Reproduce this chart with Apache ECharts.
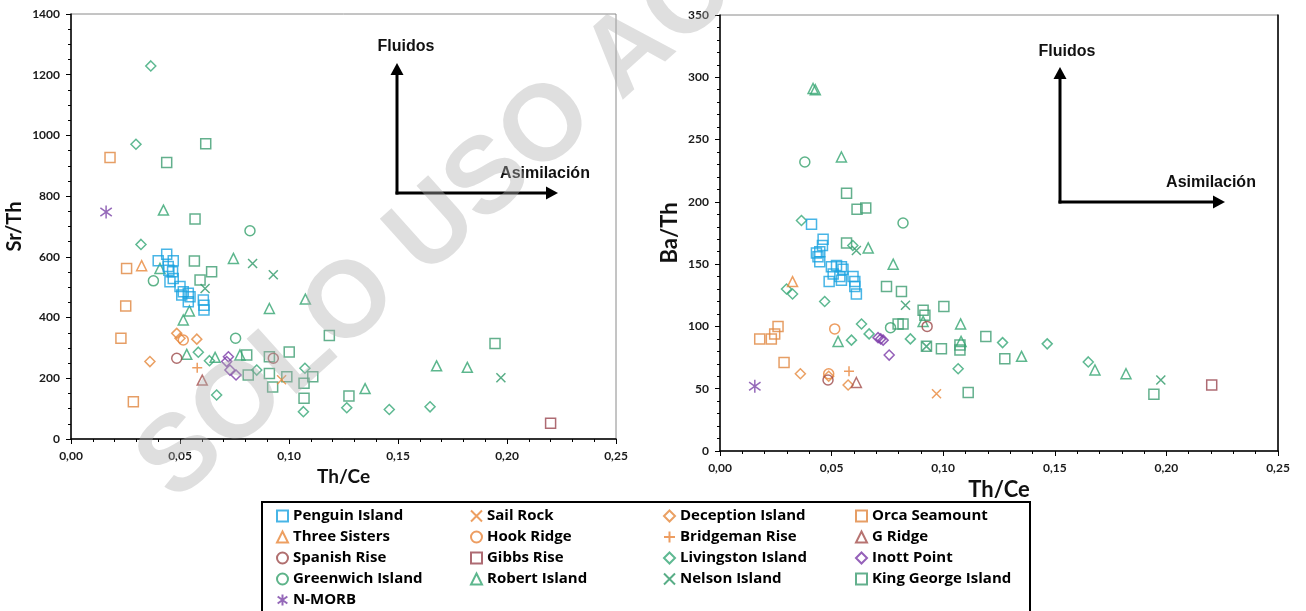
<!DOCTYPE html>
<html>
<head>
<meta charset="utf-8">
<script src="https://cdn.jsdelivr.net/npm/echarts@6/dist/echarts.min.js"></script>
<style>
  html, body { margin: 0; padding: 0; background: #fff; }
  #chart { width: 1306px; height: 611px; }
</style>
</head>
<body>
<div id="chart"></div>
<script>
// ---- Th/Ce vs Sr/Th  [Th/Ce, Sr/Th] ----
const penguinSrTh = [[0.0439,609],[0.0400,587],[0.0469,587],[0.0446,568],[0.0449,556],[0.0466,551],[0.0469,529],[0.0454,518],[0.0500,502],[0.0515,485],[0.0538,480],[0.0508,474],[0.0546,469],[0.0538,452],[0.0607,458],[0.0610,441],[0.0610,425]];
const sailRockSrTh = [[0.0966,195]];
const deceptionSrTh = [[0.0485,348],[0.0500,332],[0.0577,329],[0.0362,255]];
const orcaSrTh = [[0.0179,927],[0.0255,562],[0.0251,438],[0.0229,332],[0.0286,123]];
const threeSistersSrTh = [[0.0324,571]];
const hookRidgeSrTh = [[0.0515,326]];
const bridgemanSrTh = [[0.0579,235]];
const gRidgeSrTh = [[0.0602,194]];
const spanishSrTh = [[0.0485,266],[0.0928,266]];
const gibbsSrTh = [[0.2200,52]];
const livingstonSrTh = [[0.0366,1229],[0.0298,971],[0.0321,641],[0.0584,286],[0.0635,258],[0.0668,145],[0.0852,227],[0.1073,233],[0.1066,90],[0.1265,103],[0.1460,97],[0.1647,106]];
const inottSrTh = [[0.0722,271],[0.0714,255],[0.0729,227],[0.0757,211]];
const greenwichSrTh = [[0.0821,686],[0.0378,521],[0.0755,332]];
const robertSrTh = [[0.0424,754],[0.0408,562],[0.0745,595],[0.0910,430],[0.1075,461],[0.0515,392],[0.0543,422],[0.0531,279],[0.0661,269],[0.0775,277],[0.1677,241],[0.1818,236],[0.1349,166]];
const nelsonSrTh = [[0.0833,578],[0.0928,541],[0.0615,496],[0.1972,202]];
const kingGeorgeSrTh = [[0.0439,911],[0.0618,973],[0.0569,725],[0.0566,586],[0.0645,551],[0.0592,524],[0.1185,341],[0.0806,277],[0.0813,211],[0.0910,271],[0.0910,216],[0.0925,171],[0.1001,287],[0.0990,205],[0.1069,184],[0.1109,205],[0.1069,134],[0.1945,315],[0.1275,142]];
const nmorbSrTh = [[0.0161,748]];

// ---- Th/Ce vs Ba/Th  [Th/Ce, Ba/Th] ----
const penguinBaTh = [[0.0410,182],[0.0462,170],[0.0459,165],[0.0447,160],[0.0432,159],[0.0439,156],[0.0447,152],[0.0499,148],[0.0522,149],[0.0544,148],[0.0551,146],[0.0507,142],[0.0537,140],[0.0596,140],[0.0489,136],[0.0544,137],[0.0604,136],[0.0604,132],[0.0611,126]];
const sailRockBaTh = [[0.0970,46]];
const deceptionBaTh = [[0.0360,62],[0.0574,53],[0.0487,60]];
const orcaBaTh = [[0.0178,90],[0.0230,90],[0.0245,94],[0.0260,100],[0.0287,71]];
const threeSistersBaTh = [[0.0325,136]];
const hookRidgeBaTh = [[0.0514,98],[0.0487,62]];
const bridgemanBaTh = [[0.0578,64]];
const gRidgeBaTh = [[0.0611,55]];
const spanishBaTh = [[0.0484,57],[0.0928,100]];
const gibbsBaTh = [[0.2203,53]];
const livingstonBaTh = [[0.0365,185],[0.0298,130],[0.0325,126],[0.0469,120],[0.0595,165],[0.0634,102],[0.0668,94],[0.0589,89],[0.0853,90],[0.1067,66],[0.1266,87],[0.1466,86],[0.1650,71.5]];
const inottBaTh = [[0.0708,91],[0.0720,90],[0.0731,89],[0.0758,77]];
const greenwichBaTh = [[0.0380,232],[0.0820,183],[0.0764,99]];
const robertBaTh = [[0.0417,291],[0.0427,290],[0.0544,236],[0.0664,163],[0.0776,150],[0.0529,88],[0.0910,104],[0.1078,102],[0.1080,88],[0.1351,76],[0.1680,65],[0.1819,62]];
const nelsonBaTh = [[0.0611,161],[0.0831,117],[0.0925,84],[0.1975,57]];
const kingGeorgeBaTh = [[0.0567,207],[0.0614,194],[0.0653,195],[0.0567,167],[0.0746,132],[0.0813,128],[0.0910,113],[0.0918,109],[0.1003,116],[0.0798,102],[0.0820,102],[0.0925,84],[0.0992,82],[0.1075,85],[0.1075,81],[0.1191,92],[0.1112,47],[0.1276,74],[0.1944,45.5]];
const nmorbBaTh = [[0.0156,52]];

// ---- axis ticks ----
const thCeTickLabels = ['0,00', '0,05', '0,10', '0,15', '0,20', '0,25'];
const srThTicks = [0, 200, 400, 600, 800, 1000, 1200, 1400];
const baThTicks = [0, 50, 100, 150, 200, 250, 300, 350];

// ---- legend columns ----
const legendCol1 = ['Penguin Island', 'Three Sisters', 'Spanish Rise', 'Greenwich Island', 'N-MORB'];
const legendCol2 = ['Sail Rock', 'Hook Ridge', 'Gibbs Rise', 'Robert Island'];
const legendCol3 = ['Deception Island', 'Bridgeman Rise', 'Livingston Island', 'Nelson Island'];
const legendCol4 = ['Orca Seamount', 'G Ridge', 'Inott Point', 'King George Island'];

// symbol shapes
const SYM_X = 'path://M0,0L10,10M10,0L0,10';
const SYM_PLUS = 'path://M5,0L5,10M0,5L10,5';
const SYM_STAR = 'path://M5,0L5,10M0.6,1.8L9.4,8.2M0.6,8.2L9.4,1.8';

// drawing order: greens underneath, Penguin Island on top
const groups = [
  { name: 'King George Island', symbol: 'rect', size: 10, color: '#3c9c70', a: kingGeorgeSrTh, b: kingGeorgeBaTh },
  { name: 'Livingston Island', symbol: 'diamond', size: 10, color: '#36a877', a: livingstonSrTh, b: livingstonBaTh },
  { name: 'Robert Island', symbol: 'triangle', size: 10, color: '#34a572', a: robertSrTh, b: robertBaTh },
  { name: 'Nelson Island', symbol: SYM_X, size: 9, color: '#2e9868', a: nelsonSrTh, b: nelsonBaTh },
  { name: 'Greenwich Island', symbol: 'circle', size: 10, color: '#35a06c', a: greenwichSrTh, b: greenwichBaTh },
  { name: 'Orca Seamount', symbol: 'rect', size: 10, color: '#e0863e', a: orcaSrTh, b: orcaBaTh },
  { name: 'Three Sisters', symbol: 'triangle', size: 10, color: '#e8873a', a: threeSistersSrTh, b: threeSistersBaTh },
  { name: 'Deception Island', symbol: 'diamond', size: 10, color: '#e5883c', a: deceptionSrTh, b: deceptionBaTh },
  { name: 'Hook Ridge', symbol: 'circle', size: 10, color: '#e8853a', a: hookRidgeSrTh, b: hookRidgeBaTh },
  { name: 'Bridgeman Rise', symbol: SYM_PLUS, size: 10, color: '#e8853a', a: bridgemanSrTh, b: bridgemanBaTh },
  { name: 'Sail Rock', symbol: SYM_X, size: 9, color: '#e8873a', a: sailRockSrTh, b: sailRockBaTh },
  { name: 'G Ridge', symbol: 'triangle', size: 10, color: '#a5504d', a: gRidgeSrTh, b: gRidgeBaTh },
  { name: 'Spanish Rise', symbol: 'circle', size: 10, color: '#9c4a4a', a: spanishSrTh, b: spanishBaTh },
  { name: 'Gibbs Rise', symbol: 'rect', size: 10, color: '#9a4650', a: gibbsSrTh, b: gibbsBaTh },
  { name: 'Inott Point', symbol: 'diamond', size: 10, color: '#7a3aa8', a: inottSrTh, b: inottBaTh },
  { name: 'N-MORB', symbol: SYM_STAR, size: 13, color: '#7a44a8', a: nmorbSrTh, b: nmorbBaTh },
  { name: 'Penguin Island', symbol: 'rect', size: 10, color: '#1aa2e0', a: penguinSrTh, b: penguinBaTh }
];

function scatterSeries(g, data, idx) {
  return {
    type: 'scatter',
    name: g.name,
    xAxisIndex: idx,
    yAxisIndex: idx,
    data: data,
    symbol: g.symbol,
    symbolSize: g.size,
    symbolKeepAspect: true,
    itemStyle: { color: 'rgba(0,0,0,0)', borderColor: g.color, borderWidth: 1.5 },
    emphasis: { disabled: true },
    z: 3
  };
}

const series = [];
groups.forEach(g => {
  series.push(scatterSeries(g, g.a, 0));
  series.push(scatterSeries(g, g.b, 1));
});

const tickFont = { fontFamily: 'Lato', fontWeight: 'bold', fontSize: 12, color: '#1a1a1a' };
const axisLineStyle = { color: '#000', width: 1.5 };

function xAxisFor(gridIndex, nameGap, nameSize) {
  return {
    type: 'value', gridIndex: gridIndex, min: 0, max: 0.25, interval: 0.05,
    name: 'Th/Ce', nameLocation: 'middle', nameGap: nameGap,
    nameTextStyle: { fontFamily: 'Lato', fontWeight: 'bold', fontSize: nameSize, color: '#111' },
    axisLine: { show: true, onZero: false, lineStyle: axisLineStyle },
    axisTick: { show: true, length: 5, lineStyle: { color: '#000', width: 1 } },
    minorTick: { show: true, splitNumber: 5, length: 3, lineStyle: { color: '#000', width: 1 } },
    splitLine: { show: false },
    axisLabel: Object.assign({
      margin: 11,
      formatter: v => thCeTickLabels[Math.round(v / 0.05)]
    }, tickFont)
  };
}

function yAxisFor(gridIndex, ticks, name, nameGap, nameSize, minorSplit) {
  return {
    type: 'value', gridIndex: gridIndex,
    min: ticks[0], max: ticks[ticks.length - 1], interval: ticks[1] - ticks[0],
    name: name, nameLocation: 'middle', nameGap: nameGap, nameRotate: 90,
    nameTextStyle: { fontFamily: 'Lato', fontWeight: 'bold', fontSize: nameSize, color: '#111' },
    axisLine: { show: true, onZero: false, lineStyle: axisLineStyle },
    axisTick: { show: true, length: 5, lineStyle: { color: '#000', width: 1 } },
    minorTick: { show: true, splitNumber: minorSplit, length: 3, lineStyle: { color: '#000', width: 1 } },
    splitLine: { show: false },
    axisLabel: Object.assign({ margin: 11, formatter: v => String(v) }, tickFont)
  };
}

// arrow annotation: vertical arm up to "Fluidos", horizontal arm right to "Asimilación"
function arrowGraphics(cx, cy, topY, rightX, fluX, fluY, asiX, asiY) {
  const stroke = { stroke: '#000', lineWidth: 3 };
  return [
    { type: 'line', shape: { x1: cx, y1: cy + 1.5, x2: cx, y2: topY + 10 }, style: stroke, z: 5 },
    { type: 'line', shape: { x1: cx - 1.5, y1: cy, x2: rightX - 10, y2: cy }, style: stroke, z: 5 },
    { type: 'polygon', shape: { points: [[cx, topY], [cx - 6.5, topY + 12], [cx + 6.5, topY + 12]] }, style: { fill: '#000' }, z: 5 },
    { type: 'polygon', shape: { points: [[rightX, cy], [rightX - 12, cy - 6.5], [rightX - 12, cy + 6.5]] }, style: { fill: '#000' }, z: 5 },
    { type: 'text', x: fluX, y: fluY, style: { text: 'Fluidos', fontFamily: 'Liberation Sans', fontWeight: 'bold', fontSize: 16, fill: '#111', align: 'center', verticalAlign: 'middle' }, z: 5 },
    { type: 'text', x: asiX, y: asiY, style: { text: 'Asimilación', fontFamily: 'Liberation Sans', fontWeight: 'bold', fontSize: 16, fill: '#111', align: 'center', verticalAlign: 'middle' }, z: 5 }
  ];
}

const graphics = []
  .concat(arrowGraphics(397, 193, 63, 558, 406, 47, 545, 174))
  .concat(arrowGraphics(1060, 202, 67, 1225, 1067, 52, 1211, 183))
  .concat([
    // legend frame
    { type: 'rect', shape: { x: 262, y: 502, width: 768, height: 120 }, style: { fill: 'none', stroke: '#000', lineWidth: 2 }, z: 1 },
    // diagonal watermark
    { type: 'text', x: 155, y: 481, rotation: 42 * Math.PI / 180,
      style: { text: 'SOLO USO ACADÉMICO', fontFamily: 'Liberation Sans', fontWeight: 'bold', fontSize: 108,
               fill: 'rgba(175,175,175,0.4)', align: 'left', verticalAlign: 'middle' }, z: 100 }
  ]);

function legendCol(left, data) {
  return {
    orient: 'vertical', left: left, top: 508, padding: 0,
    itemWidth: 11, itemHeight: 11, itemGap: 5,
    selectedMode: false,
    textStyle: { fontFamily: 'Open Sans', fontWeight: 'bold', fontSize: 15, lineHeight: 16, color: '#000' },
    data: data
  };
}

const option = {
  animation: false,
  backgroundColor: '#fff',
  grid: [
    { left: 71, top: 14, width: 545, height: 425, show: true, borderColor: '#8a8a8a', borderWidth: 1, backgroundColor: 'transparent' },
    { left: 720, top: 15, width: 558, height: 436, show: true, borderColor: '#8a8a8a', borderWidth: 1, backgroundColor: 'transparent' }
  ],
  xAxis: [xAxisFor(0, 20, 19), xAxisFor(1, 23, 22)],
  yAxis: [
    yAxisFor(0, srThTicks, 'Sr/Th', 46, 20, 4),
    yAxisFor(1, baThTicks, 'Ba/Th', 39, 22, 5),
    // dark right frame of the Ba/Th panel
    { type: 'value', gridIndex: 1, position: 'right', min: 0, max: 350,
      axisLine: { show: true, onZero: false, lineStyle: { color: '#000', width: 1.5 } },
      axisTick: { show: false }, axisLabel: { show: false }, splitLine: { show: false } }
  ],
  legend: [
    legendCol(276, legendCol1),
    legendCol(470, legendCol2),
    legendCol(663, legendCol3),
    legendCol(855, legendCol4)
  ],
  graphic: { elements: graphics },
  series: series
};

const chart = echarts.init(document.getElementById('chart'), null, { renderer: 'canvas' });
chart.setOption(option);
</script>
</body>
</html>
